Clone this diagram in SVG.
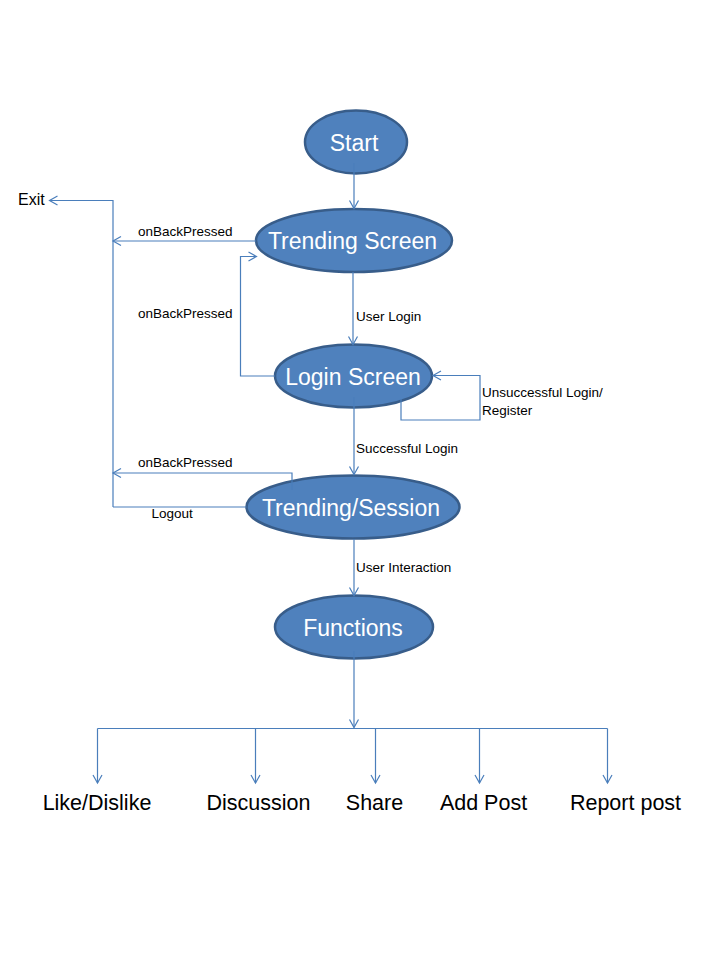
<svg xmlns="http://www.w3.org/2000/svg" width="720" height="960" viewBox="0 0 720 960">
<style>
.node{fill:#4F81BD;stroke:#385D8A;stroke-width:2.5}
.nl{font-family:"Liberation Sans",Arial,sans-serif;font-size:23px;fill:#FFFFFF;text-anchor:middle}
.c{fill:none;stroke:#4A7EBB;stroke-width:1.2}
.lbl{font-family:"Liberation Sans",Arial,sans-serif;font-size:13.5px;fill:#000000}
.big{font-family:"Liberation Sans",Arial,sans-serif;font-size:21.5px;fill:#000000;text-anchor:middle}
</style>
<defs>
<marker id="arr" markerUnits="userSpaceOnUse" markerWidth="14" markerHeight="14" refX="9" refY="6" orient="auto">
<path d="M1,1.5 L9,6 L1,10.5" fill="none" stroke="#4A7EBB" stroke-width="1.2"/>
</marker>
</defs>
<rect width="720" height="960" fill="#FFFFFF"/>
<g id="start"><ellipse class="node" cx="356" cy="142" rx="51" ry="31.5"/><text class="nl" x="354" y="150.5">Start</text></g>
<g id="trending-screen"><ellipse class="node" cx="354" cy="240.5" rx="98" ry="31.5"/><text class="nl" x="352.5" y="249">Trending Screen</text></g>
<g id="login-screen"><ellipse class="node" cx="353.5" cy="376" rx="78.5" ry="31.5"/><text class="nl" x="353" y="384.5">Login Screen</text></g>
<g id="trending-session"><ellipse class="node" cx="353" cy="507" rx="106.5" ry="31.5"/><text class="nl" x="351" y="515.5">Trending/Session</text></g>
<g id="functions"><ellipse class="node" cx="354" cy="627" rx="79" ry="31.5"/><text class="nl" x="353" y="635.5">Functions</text></g>
<g id="exit"><text class="lbl" x="18" y="205" style="font-size:16px">Exit</text></g>
<g id="outcomes">
<text class="big" x="97" y="810">Like/Dislike</text>
<text class="big" x="258.5" y="810">Discussion</text>
<text class="big" x="374.5" y="810">Share</text>
<text class="big" x="483.5" y="810">Add Post</text>
<text class="big" x="625.5" y="810">Report post</text>
</g>
<g id="connectors">
<path class="c" d="M354,163 L354,208.5" marker-end="url(#arr)"/>
<path class="c" d="M256,241 L113,241" marker-end="url(#arr)"/>
<path class="c" d="M113,507 L113,200.5 L49.5,200.5" marker-end="url(#arr)"/>
<path class="c" d="M246.5,507 L113,507"/>
<path class="c" d="M353,272 L353,344.5" marker-end="url(#arr)"/>
<path class="c" d="M275,376 L240.5,376 L240.5,256.5 L256.5,256.5" marker-end="url(#arr)"/>
<path class="c" d="M401,399 L401,420 L480,420 L480,375.5 L433,375.5" marker-end="url(#arr)"/>
<path class="c" d="M354,397 L354,474.5" marker-end="url(#arr)"/>
<path class="c" d="M292,490 L292,473 L113,473" marker-end="url(#arr)"/>
<path class="c" d="M354,539 L354,595.5" marker-end="url(#arr)"/>
<path class="c" d="M354,651 L354,727.5" marker-end="url(#arr)"/>
<path class="c" d="M97.5,728.5 L607.5,728.5"/>
<path class="c" d="M97.5,728.5 L97.5,783" marker-end="url(#arr)"/>
<path class="c" d="M255.5,728.5 L255.5,783" marker-end="url(#arr)"/>
<path class="c" d="M375.5,728.5 L375.5,783" marker-end="url(#arr)"/>
<path class="c" d="M479.5,728.5 L479.5,783" marker-end="url(#arr)"/>
<path class="c" d="M607.5,728.5 L607.5,783" marker-end="url(#arr)"/>
</g>
<g id="labels">
<text class="lbl" x="138" y="235.5">onBackPressed</text>
<text class="lbl" x="356" y="320.5">User Login</text>
<text class="lbl" x="138" y="317.5">onBackPressed</text>
<text class="lbl" x="482" y="396.5">Unsuccessful Login/</text>
<text class="lbl" x="482" y="415">Register</text>
<text class="lbl" x="356" y="452.5">Successful Login</text>
<text class="lbl" x="138" y="466.5">onBackPressed</text>
<text class="lbl" x="151.5" y="518">Logout</text>
<text class="lbl" x="356" y="571.5">User Interaction</text>
</g>
</svg>
